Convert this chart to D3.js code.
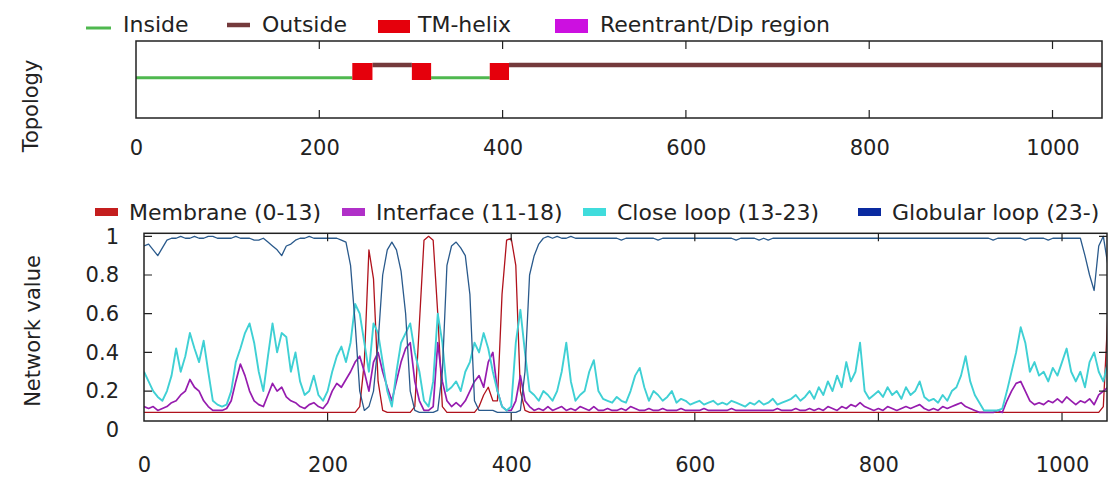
<!DOCTYPE html>
<html>
<head>
<meta charset="utf-8">
<script src="https://cdn.jsdelivr.net/npm/d3@7"></script>
<style>
  body { margin: 0; background: #fff; }
  text { font-family: "DejaVu Sans", sans-serif; fill: #222; }
</style>
</head>
<body>
<svg width="1108" height="478"></svg>
<script>
// residue step between samples of the network outputs
const step = 5;

// topology segments (residue ranges)
const insideSegs = [[0, 236], [322, 386]];
const outsideSegs = [[258, 301], [407, 1054]];
const tmHelices = [[236, 258], [301, 322], [386, 407]];

const xTicks = [0, 200, 400, 600, 800, 1000];
const yTicks = [0, 0.2, 0.4, 0.6, 0.8, 1];

// network values, one every 5 residues (0..1050)
const membrane = [
  0.09,0.09,0.09,0.09,0.09,0.09,0.09,0.09,0.09,0.09,
  0.09,0.09,0.09,0.09,0.09,0.09,0.09,0.09,0.09,0.09,
  0.09,0.09,0.09,0.09,0.09,0.09,0.09,0.09,0.09,0.09,
  0.09,0.09,0.09,0.09,0.09,0.09,0.09,0.09,0.09,0.09,
  0.09,0.09,0.09,0.09,0.09,0.09,0.09,0.12,0.35,0.93,
  0.78,0.25,0.10,0.09,0.09,0.09,0.09,0.09,0.09,0.12,
  0.55,0.98,1.00,0.98,0.60,0.12,0.09,0.09,0.09,0.09,
  0.09,0.09,0.09,0.12,0.18,0.22,0.15,0.15,0.70,0.98,
  0.99,0.85,0.20,0.10,0.09,0.09,0.09,0.09,0.09,0.09,
  0.09,0.09,0.09,0.09,0.09,0.09,0.09,0.09,0.09,0.09,
  0.09,0.09,0.09,0.09,0.09,0.09,0.09,0.09,0.09,0.09,
  0.09,0.09,0.09,0.09,0.09,0.09,0.09,0.09,0.09,0.09,
  0.09,0.09,0.09,0.09,0.09,0.09,0.09,0.09,0.09,0.09,
  0.09,0.09,0.09,0.09,0.09,0.09,0.09,0.09,0.09,0.09,
  0.09,0.09,0.09,0.09,0.09,0.09,0.09,0.09,0.09,0.09,
  0.09,0.09,0.09,0.09,0.09,0.09,0.09,0.09,0.09,0.09,
  0.09,0.09,0.09,0.09,0.09,0.09,0.09,0.09,0.09,0.09,
  0.09,0.09,0.09,0.09,0.09,0.09,0.09,0.09,0.09,0.09,
  0.09,0.09,0.09,0.09,0.09,0.09,0.09,0.09,0.09,0.09,
  0.09,0.09,0.09,0.09,0.09,0.09,0.09,0.09,0.09,0.09,
  0.09,0.09,0.09,0.09,0.09,0.09,0.09,0.09,0.09,0.12,
  0.60
];
const iface = [
  0.12,0.11,0.12,0.10,0.11,0.12,0.14,0.15,0.18,0.20,
  0.26,0.22,0.20,0.15,0.12,0.10,0.10,0.10,0.11,0.15,
  0.25,0.34,0.28,0.20,0.15,0.13,0.12,0.18,0.24,0.20,
  0.22,0.17,0.15,0.14,0.12,0.11,0.13,0.14,0.12,0.11,
  0.14,0.20,0.24,0.22,0.26,0.30,0.35,0.38,0.30,0.20,
  0.35,0.40,0.30,0.22,0.15,0.25,0.35,0.42,0.45,0.25,
  0.15,0.10,0.10,0.12,0.45,0.25,0.15,0.12,0.14,0.12,
  0.15,0.20,0.25,0.28,0.22,0.35,0.40,0.20,0.12,0.10,
  0.10,0.15,0.28,0.15,0.12,0.10,0.11,0.10,0.12,0.10,
  0.11,0.12,0.10,0.11,0.10,0.12,0.11,0.10,0.12,0.10,
  0.10,0.11,0.10,0.10,0.11,0.10,0.12,0.11,0.10,0.10,
  0.11,0.10,0.10,0.11,0.10,0.10,0.10,0.11,0.10,0.10,
  0.10,0.10,0.11,0.10,0.10,0.10,0.10,0.10,0.11,0.10,
  0.10,0.10,0.10,0.10,0.10,0.10,0.10,0.10,0.11,0.10,
  0.10,0.10,0.11,0.10,0.10,0.11,0.10,0.11,0.10,0.12,
  0.11,0.10,0.12,0.11,0.13,0.12,0.14,0.12,0.11,0.10,
  0.11,0.10,0.12,0.11,0.10,0.11,0.12,0.11,0.12,0.13,
  0.11,0.10,0.11,0.10,0.12,0.11,0.12,0.13,0.14,0.12,
  0.11,0.10,0.09,0.09,0.09,0.09,0.10,0.09,0.15,0.20,
  0.24,0.25,0.20,0.15,0.13,0.14,0.13,0.15,0.14,0.16,
  0.14,0.17,0.15,0.13,0.15,0.14,0.16,0.13,0.18,0.20,
  0.22
];
const closeLoop = [
  0.30,0.25,0.20,0.17,0.15,0.20,0.28,0.42,0.30,0.38,
  0.50,0.42,0.35,0.46,0.30,0.15,0.13,0.12,0.13,0.20,
  0.35,0.42,0.50,0.55,0.45,0.30,0.20,0.38,0.55,0.40,
  0.50,0.48,0.30,0.40,0.25,0.18,0.20,0.28,0.18,0.15,
  0.20,0.30,0.38,0.43,0.35,0.45,0.65,0.60,0.45,0.30,
  0.55,0.50,0.35,0.20,0.12,0.30,0.45,0.50,0.55,0.40,
  0.30,0.15,0.12,0.25,0.60,0.45,0.20,0.22,0.25,0.20,
  0.30,0.35,0.45,0.40,0.50,0.42,0.30,0.20,0.12,0.10,
  0.12,0.45,0.62,0.40,0.20,0.18,0.15,0.20,0.18,0.15,
  0.20,0.30,0.45,0.25,0.15,0.18,0.20,0.30,0.36,0.20,
  0.16,0.15,0.14,0.17,0.15,0.14,0.20,0.28,0.32,0.22,
  0.15,0.20,0.18,0.15,0.17,0.20,0.14,0.16,0.15,0.13,
  0.14,0.15,0.13,0.14,0.15,0.13,0.14,0.13,0.15,0.14,
  0.13,0.12,0.14,0.13,0.15,0.13,0.14,0.16,0.13,0.14,
  0.15,0.16,0.18,0.15,0.17,0.20,0.16,0.22,0.18,0.25,
  0.20,0.28,0.22,0.35,0.25,0.30,0.45,0.20,0.16,0.18,
  0.20,0.17,0.22,0.18,0.20,0.16,0.22,0.18,0.20,0.25,
  0.17,0.15,0.16,0.14,0.18,0.15,0.20,0.22,0.28,0.38,
  0.25,0.18,0.14,0.10,0.10,0.10,0.10,0.11,0.20,0.30,
  0.40,0.53,0.45,0.30,0.35,0.28,0.30,0.25,0.32,0.28,
  0.35,0.42,0.30,0.25,0.30,0.22,0.35,0.40,0.30,0.25,
  0.35
];
const globular = [
  0.95,0.96,0.93,0.90,0.94,0.98,0.99,0.99,1.00,0.99,
  0.99,1.00,0.99,0.99,1.00,1.00,0.99,0.99,0.99,0.99,
  1.00,0.99,0.99,0.99,0.98,0.98,0.99,0.97,0.95,0.93,
  0.90,0.95,0.96,0.98,0.99,0.99,1.00,0.99,0.99,0.99,
  0.99,0.99,0.99,0.98,0.97,0.85,0.55,0.20,0.10,0.12,
  0.20,0.45,0.80,0.93,0.97,0.93,0.82,0.60,0.20,0.10,
  0.09,0.09,0.09,0.09,0.10,0.30,0.85,0.95,0.97,0.94,
  0.90,0.70,0.15,0.10,0.10,0.10,0.10,0.09,0.09,0.09,
  0.09,0.09,0.10,0.30,0.80,0.90,0.96,0.99,1.00,0.99,
  1.00,0.99,0.99,1.00,0.99,0.99,0.99,0.99,0.99,0.99,
  0.99,0.99,0.99,0.99,0.98,0.99,0.99,0.99,0.99,0.99,
  0.99,0.99,0.98,0.99,0.99,0.99,0.99,0.99,0.99,0.99,
  0.99,0.99,0.99,0.99,0.99,0.99,0.99,0.99,0.99,0.98,
  0.99,0.99,0.99,0.99,0.98,0.99,0.98,0.99,0.99,0.99,
  0.99,0.99,0.99,0.99,0.99,0.99,0.99,0.99,0.99,0.99,
  0.99,0.99,0.99,0.99,0.99,0.99,0.99,0.99,0.99,0.99,
  0.99,0.99,0.99,0.99,0.99,0.99,0.99,0.99,0.99,0.99,
  0.99,0.99,0.99,0.99,0.99,0.99,0.99,0.99,0.99,0.99,
  0.99,0.99,0.99,0.99,0.99,0.98,0.99,0.99,0.99,0.99,
  0.99,0.99,0.98,0.99,0.99,0.99,0.99,0.98,0.99,0.99,
  0.99,0.99,0.99,0.99,0.99,0.90,0.80,0.72,0.95,1.00,
  0.85
];

const series = [
  { name: 'Membrane (0-13)', values: membrane, color: '#b0121c', swatch: '#c41e1e', width: 1.3 },
  { name: 'Interface (11-18)', values: iface, color: '#961cae', swatch: '#b030c8', width: 1.7 },
  { name: 'Close loop (13-23)', values: closeLoop, color: '#3fd0d4', swatch: '#40dcdc', width: 1.9 },
  { name: 'Globular loop (23-)', values: globular, color: '#2a5a8c', swatch: '#0a2aa0', width: 1.3 }
];

const svg = d3.select('svg');

// ---------- top panel: topology ----------
const topBox = { top: 41, bottom: 118 };
const xTop = d3.scaleLinear().domain([0, 1054]).range([136, 1102]);
const insideY = 77.7, outsideY = 65;

let topPanel = svg.append('g');

topPanel.selectAll('.inside')
  .data(insideSegs)
  .enter().append('line')
    .attr('x1', d => xTop(d[0])).attr('x2', d => xTop(d[1]))
    .attr('y1', insideY).attr('y2', insideY)
    .attr('stroke', '#4fb84f').attr('stroke-width', 3);

topPanel.selectAll('.outside')
  .data(outsideSegs)
  .enter().append('line')
    .attr('x1', d => xTop(d[0])).attr('x2', d => xTop(d[1]))
    .attr('y1', outsideY).attr('y2', outsideY)
    .attr('stroke', '#743a3c').attr('stroke-width', 4.5);

topPanel.selectAll('.tm')
  .data(tmHelices)
  .enter().append('rect')
    .attr('x', d => xTop(d[0])).attr('width', d => xTop(d[1]) - xTop(d[0]))
    .attr('y', 63).attr('height', 17)
    .attr('fill', '#e5000c');

topPanel.append('rect')
  .attr('x', xTop(0)).attr('y', topBox.top)
  .attr('width', xTop(1054) - xTop(0)).attr('height', topBox.bottom - topBox.top)
  .attr('fill', 'none').attr('stroke', '#222').attr('stroke-width', 1.5);

topPanel.selectAll('.tick-mark')
  .data(xTicks.slice(1))
  .enter().append('path')
    .attr('d', d => `M${xTop(d)},${topBox.top}v8M${xTop(d)},${topBox.bottom}v-8`)
    .attr('stroke', '#222').attr('stroke-width', 1.2);

topPanel.append('g')
  .attr('transform', `translate(0, ${topBox.bottom})`)
  .call(d3.axisBottom(xTop).tickValues(xTicks).tickSize(0).tickPadding(22).tickFormat(d3.format('d')))
  .call(g => g.select('.domain').remove())
  .selectAll('text').style('font-size', '21px').attr('fill', '#222');

topPanel.append('text')
  .attr('transform', 'translate(38, 106) rotate(-90)')
  .style('text-anchor', 'middle')
  .style('font-size', '21px')
  .text('Topology');

// top legend
let topLegend = svg.append('g').style('font-size', '22px');
topLegend.append('line').attr('x1', 86).attr('x2', 111).attr('y1', 28).attr('y2', 28)
  .attr('stroke', '#4fb84f').attr('stroke-width', 3);
topLegend.append('text').attr('x', 123).attr('y', 32).text('Inside');
topLegend.append('line').attr('x1', 227).attr('x2', 250).attr('y1', 25).attr('y2', 25)
  .attr('stroke', '#743a3c').attr('stroke-width', 4.5);
topLegend.append('text').attr('x', 262).attr('y', 32).text('Outside');
topLegend.append('rect').attr('x', 378).attr('y', 20).attr('width', 32).attr('height', 13)
  .attr('fill', '#e5000c');
topLegend.append('text').attr('x', 418).attr('y', 32).text('TM-helix');
topLegend.append('rect').attr('x', 555).attr('y', 19).attr('width', 33).attr('height', 14)
  .attr('fill', '#cc10e0');
topLegend.append('text').attr('x', 600).attr('y', 32).text('Reentrant/Dip region');

// ---------- bottom panel: network values ----------
const botBox = { top: 233.3, bottom: 421 };
const xBot = d3.scaleLinear().domain([0, 1049]).range([144, 1107]);
const yBot = d3.scaleLinear().domain([0, 1]).range([429.8, 236.3]);

svg.append('clipPath').attr('id', 'plotclip')
  .append('rect')
    .attr('x', xBot(0)).attr('y', botBox.top)
    .attr('width', xBot(1049) - xBot(0)).attr('height', botBox.bottom - botBox.top);

let line = d3.line()
  .x((d, i) => xBot(i * step))
  .y(d => yBot(d));

svg.append('g')
  .attr('clip-path', 'url(#plotclip)')
  .selectAll('path')
  .data(series)
  .enter().append('path')
    .attr('d', d => line(d.values))
    .attr('fill', 'none')
    .attr('stroke', d => d.color)
    .attr('stroke-width', d => d.width)
    .attr('stroke-linejoin', 'round');

svg.append('rect')
  .attr('x', xBot(0)).attr('y', botBox.top)
  .attr('width', xBot(1049) - xBot(0)).attr('height', botBox.bottom - botBox.top)
  .attr('fill', 'none').attr('stroke', '#222').attr('stroke-width', 1.5);

svg.selectAll('.xtick-bot')
  .data(xTicks.slice(1))
  .enter().append('path')
    .attr('d', d => `M${xBot(d)},${botBox.top}v8M${xBot(d)},${botBox.bottom}v-8`)
    .attr('stroke', '#222').attr('stroke-width', 1.2);

svg.selectAll('.ytick-bot')
  .data(yTicks.slice(1))
  .enter().append('path')
    .attr('d', d => `M${xBot(0)},${yBot(d)}h8M${xBot(1049)},${yBot(d)}h-8`)
    .attr('stroke', '#222').attr('stroke-width', 1.2);

svg.append('g')
  .attr('transform', `translate(0, ${botBox.bottom})`)
  .call(d3.axisBottom(xBot).tickValues(xTicks).tickSize(0).tickPadding(36).tickFormat(d3.format('d')))
  .call(g => g.select('.domain').remove())
  .selectAll('text').style('font-size', '21px').attr('fill', '#222');

svg.append('g')
  .attr('transform', `translate(${xBot(0)}, 0)`)
  .call(d3.axisLeft(yBot).tickValues(yTicks).tickSize(0).tickPadding(25).tickFormat(d3.format('')))
  .call(g => g.select('.domain').remove())
  .selectAll('text').style('font-size', '21px').attr('fill', '#222');

svg.append('text')
  .attr('transform', 'translate(40, 331) rotate(-90)')
  .style('text-anchor', 'middle')
  .style('font-size', '21px')
  .text('Network value');

// bottom legend
const legendX = [95, 342, 583, 858];
let botLegend = svg.append('g').style('font-size', '22px')
  .selectAll('g')
  .data(series)
  .enter().append('g')
    .attr('transform', (d, i) => `translate(${legendX[i]}, 0)`);

botLegend.append('rect')
  .attr('x', 0).attr('y', 208).attr('width', 23).attr('height', 8)
  .attr('fill', d => d.swatch);

botLegend.append('text')
  .attr('x', 34).attr('y', 220)
  .text(d => d.name);
</script>
</body>
</html>
